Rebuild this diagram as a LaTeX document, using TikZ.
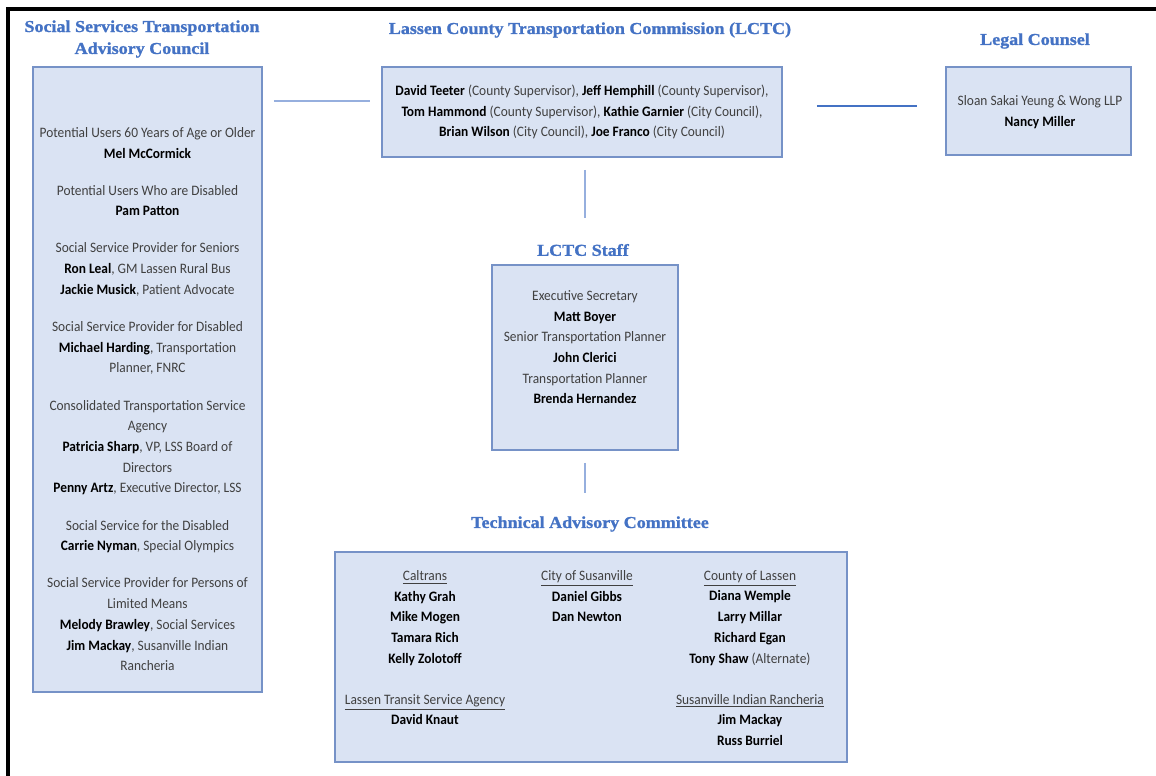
\documentclass[tikz,border=0pt]{standalone}
\usepackage{fontspec}
\setmainfont{Carlito}[FakeStretch=0.93]
\newfontfamily\headfont{Liberation Serif}[FakeStretch=1.08,
  BoldFeatures={FakeBold=1.2}]
\usepackage{xcolor}
\usetikzlibrary{positioning}

\definecolor{headblue}{RGB}{68,114,196}
\definecolor{boxfill}{RGB}{218,227,243}
\definecolor{boxline}{RGB}{118,146,199}
\definecolor{linkblue}{RGB}{150,175,222}
\definecolor{linkdark}{RGB}{68,114,196}
\definecolor{bodygray}{RGB}{64,64,64}
\newcommand{\nm}[1]{\textbf{\color{black}#1}}

\begin{document}
\begin{tikzpicture}[
    x = 0.02cm, y = -0.02cm,
    box/.style  = {rectangle, draw=boxline, fill=boxfill, line width=1.1pt,
                   inner sep=0pt, outer sep=0pt},
    head/.style = {font=\headfont\bfseries\fontsize{9.5}{12.5}\selectfont,
                   text=headblue, align=center, inner sep=0pt},
    body/.style = {font=\fontsize{8.2}{11.8}\selectfont, text=bodygray,
                   align=center, inner sep=0pt},
    link/.style = {draw=linkblue, line width=0.8pt},
  ]
  \useasboundingbox (0,0) rectangle (1156,776);
  \draw[line width=2.2pt] (8,776) -- (8,9) -- (1156,9);

  % boxes
  \node[box, minimum width=4.58cm, minimum height=12.5cm] (ssbox)    at (147.5,379.5) {};
  \node[box, minimum width=8.0cm,  minimum height=1.8cm]  (lctc)     at (582,112) {};
  \node[box, minimum width=3.7cm,  minimum height=1.76cm] (legal)    at (1038.5,111) {};
  \node[box, minimum width=3.72cm, minimum height=3.7cm]  (staffbox) at (585,357.5) {};
  \node[box, minimum width=10.24cm, minimum height=4.2cm] (tacbox)   at (591,657) {};

  % headings
  \node[head] (sshead)    at (142,39)  {Social Services Transportation\\Advisory Council};
  \node[head] (lctchead)  at (590,30)  {Lassen County Transportation Commission (LCTC)};
  \node[head] (legalhead) at (1035,41) {Legal Counsel};
  \node[head] (staffhead) at (583,250) {LCTC Staff};
  \node[head] (tachead)   at (590,524) {Technical Advisory Committee};

  % texts
  \node[body, anchor=north] (sstext) at (147.5,127) {%
    Potential Users 60 Years of Age or Older\\ \nm{Mel McCormick}\\[9.3pt]
    Potential Users Who are Disabled\\ \nm{Pam Patton}\\[9.3pt]
    Social Service Provider for Seniors\\ \nm{Ron Leal}, GM Lassen Rural Bus\\
    \nm{Jackie Musick}, Patient Advocate\\[9.3pt]
    Social Service Provider for Disabled\\ \nm{Michael Harding}, Transportation\\
    Planner, FNRC\\[9.3pt]
    Consolidated Transportation Service\\ Agency\\
    \nm{Patricia Sharp}, VP, LSS Board of\\ Directors\\
    \nm{Penny Artz}, Executive Director, LSS\\[9.3pt]
    Social Service for the Disabled\\ \nm{Carrie Nyman}, Special Olympics\\[9.3pt]
    Social Service Provider for Persons of\\ Limited Means\\
    \nm{Melody Brawley}, Social Services\\ \nm{Jim Mackay}, Susanville Indian\\
    Rancheria};
  \node[body] (lctctext) at (lctc) {%
    \nm{David Teeter} (County Supervisor), \nm{Jeff Hemphill} (County Supervisor),\\
    \nm{Tom Hammond} (County Supervisor), \nm{Kathie Garnier} (City Council),\\
    \nm{Brian Wilson} (City Council), \nm{Joe Franco} (City Council)};
  \node[body] (legaltext) at (1040,112) {Sloan Sakai Yeung \& Wong LLP\\ \nm{Nancy Miller}};
  \node[body, anchor=north] (stafftext) at (585,290) {%
    Executive Secretary\\ \nm{Matt Boyer}\\ Senior Transportation Planner\\
    \nm{John Clerici}\\ Transportation Planner\\ \nm{Brenda Hernandez}};
  \node[body, anchor=north] (tacleft) at (425,570) {%
    \underline{Caltrans}\\ \nm{Kathy Grah}\\ \nm{Mike Mogen}\\ \nm{Tamara Rich}\\
    \nm{Kelly Zolotoff}\\[11.5pt]
    \underline{Lassen Transit Service Agency}\\ \nm{David Knaut}};
  \node[body, anchor=north] (tacmid) at (587,570) {%
    \underline{City of Susanville}\\ \nm{Daniel Gibbs}\\ \nm{Dan Newton}};
  \node[body, anchor=north] (tacright) at (750,570) {%
    \underline{County of Lassen}\\ \nm{Diana Wemple}\\ \nm{Larry Millar}\\
    \nm{Richard Egan}\\ \nm{Tony Shaw} (Alternate)\\[11.5pt]
    \underline{Susanville Indian Rancheria}\\ \nm{Jim Mackay}\\ \nm{Russ Burriel}};

  % connectors
  \draw[link, shorten <=0.24cm, shorten >=0.24cm]
    ([yshift=0.22cm]lctc.west -| ssbox.east) -- ([yshift=0.22cm]lctc.west);
  \draw[link, draw=linkdark, line width=1pt, shorten <=0.7cm, shorten >=0.58cm]
    ([yshift=0.12cm]lctc.east) -- ([yshift=0.12cm]lctc.east -| legal.west);
  \draw[link, shorten <=0.26cm, shorten >=0.94cm]
    (lctc.south -| staffbox.north) -- (staffbox.north);
  \draw[link, shorten <=0.26cm, shorten >=1.18cm]
    (staffbox.south) -- (staffbox.south |- tacbox.north);
\end{tikzpicture}
\end{document}
